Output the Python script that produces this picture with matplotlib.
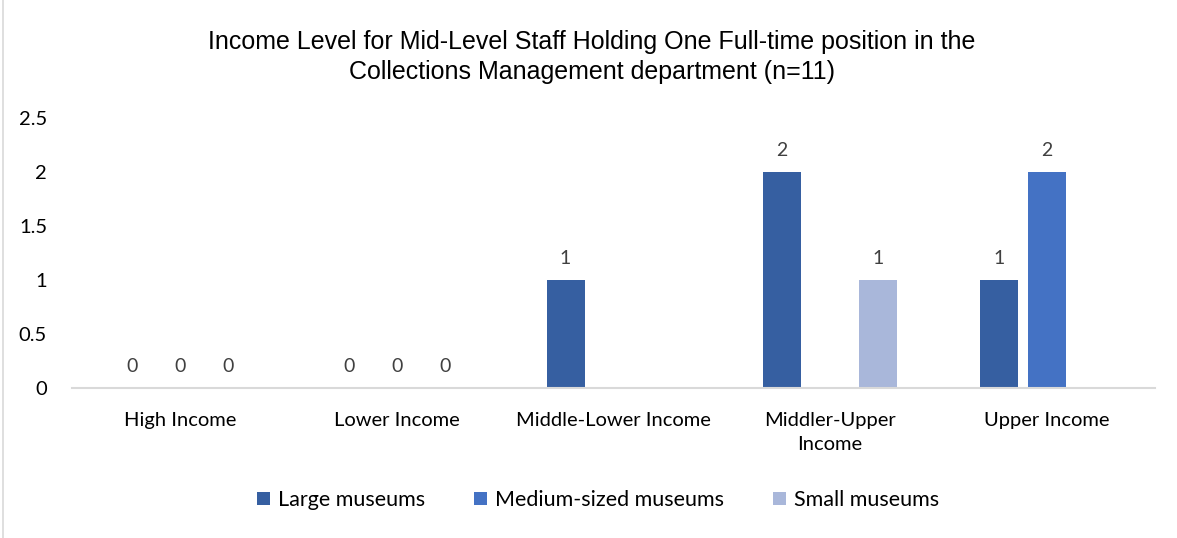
import numpy as np
import matplotlib
matplotlib.use("Agg")
import matplotlib.pyplot as plt
from matplotlib.patches import Patch
from matplotlib.lines import Line2D

categories = ["High Income", "Lower Income", "Middle-Lower Income",
              "Middler-Upper\nIncome", "Upper Income"]
series_names = ["Large museums", "Medium-sized museums", "Small museums"]
large = [0, 0, 1, 2, 1]
medium = [0, 0, np.nan, np.nan, 2]
small = [0, 0, np.nan, 1, np.nan]
colors = ["#365FA1", "#4472C4", "#A9B7DA"]
yticks = [0, 0.5, 1, 1.5, 2, 2.5]
ytick_labels = ["0", "0.5", "1", "1.5", "2", "2.5"]

W, H = 1177, 538
fig = plt.figure(figsize=(W / 100, H / 100), dpi=100)
ax = fig.add_axes([72 / W, (H - 388) / H, (1155 - 72) / W, (388 - 118) / H])

body_font = ["Lato", "DejaVu Sans"]
title_font = ["Liberation Sans", "DejaVu Sans"]

x = np.arange(len(categories))
bar_w = 38 / 216.6
step = 48 / 216.6
for i, (vals, col) in enumerate(zip([large, medium, small], colors)):
    offs = (i - 1) * step
    for xi, v in zip(x, vals):
        if np.isnan(v):
            continue
        ax.bar(xi + offs, v, width=bar_w, color=col, edgecolor="none", zorder=2)
        ax.text(xi + offs, v + 0.12, f"{v:g}", ha="center", va="bottom",
                fontsize=14, color="#404040", family=body_font)

ax.set_xlim(-0.5, len(categories) - 0.5)
ax.set_ylim(0, 2.5)
ax.set_yticks(yticks)
ax.set_yticklabels(ytick_labels, family=body_font, fontsize=14.5, color="#000000")
ax.set_xticks(x)
ax.set_xticklabels(categories, family=body_font, fontsize=14.5, color="#000000",
                   linespacing=1.5)
ax.tick_params(axis="both", length=0)
ax.tick_params(axis="x", pad=17)
ax.tick_params(axis="y", pad=18)
for side in ["top", "right", "left"]:
    ax.spines[side].set_visible(False)
ax.spines["bottom"].set_color("#D9D9D9")
ax.spines["bottom"].set_linewidth(1.5)

fig.text(592 / W, 1 - 42 / H,
         "Income Level for Mid-Level Staff Holding One Full-time position in the",
         ha="center", va="center", fontsize=18, family=title_font, color="#000000")
fig.text(592 / W, 1 - 72 / H,
         "Collections Management department (n=11)",
         ha="center", va="center", fontsize=18, family=title_font, color="#000000")

handles = [Patch(facecolor=c, edgecolor="none") for c in colors]
fig.legend(handles, series_names, loc="center", bbox_to_anchor=(598 / W, 1 - 500 / H),
           ncol=3, frameon=False, prop={"family": body_font, "size": 15.5},
           handlelength=0.6, handleheight=0.6, handletextpad=0.35, columnspacing=2.3)

fig.add_artist(Line2D([3 / W, 3 / W], [0, 1], transform=fig.transFigure,
                      color="#D9D9D9", linewidth=1.2))

fig.savefig("out.png", dpi=100)
